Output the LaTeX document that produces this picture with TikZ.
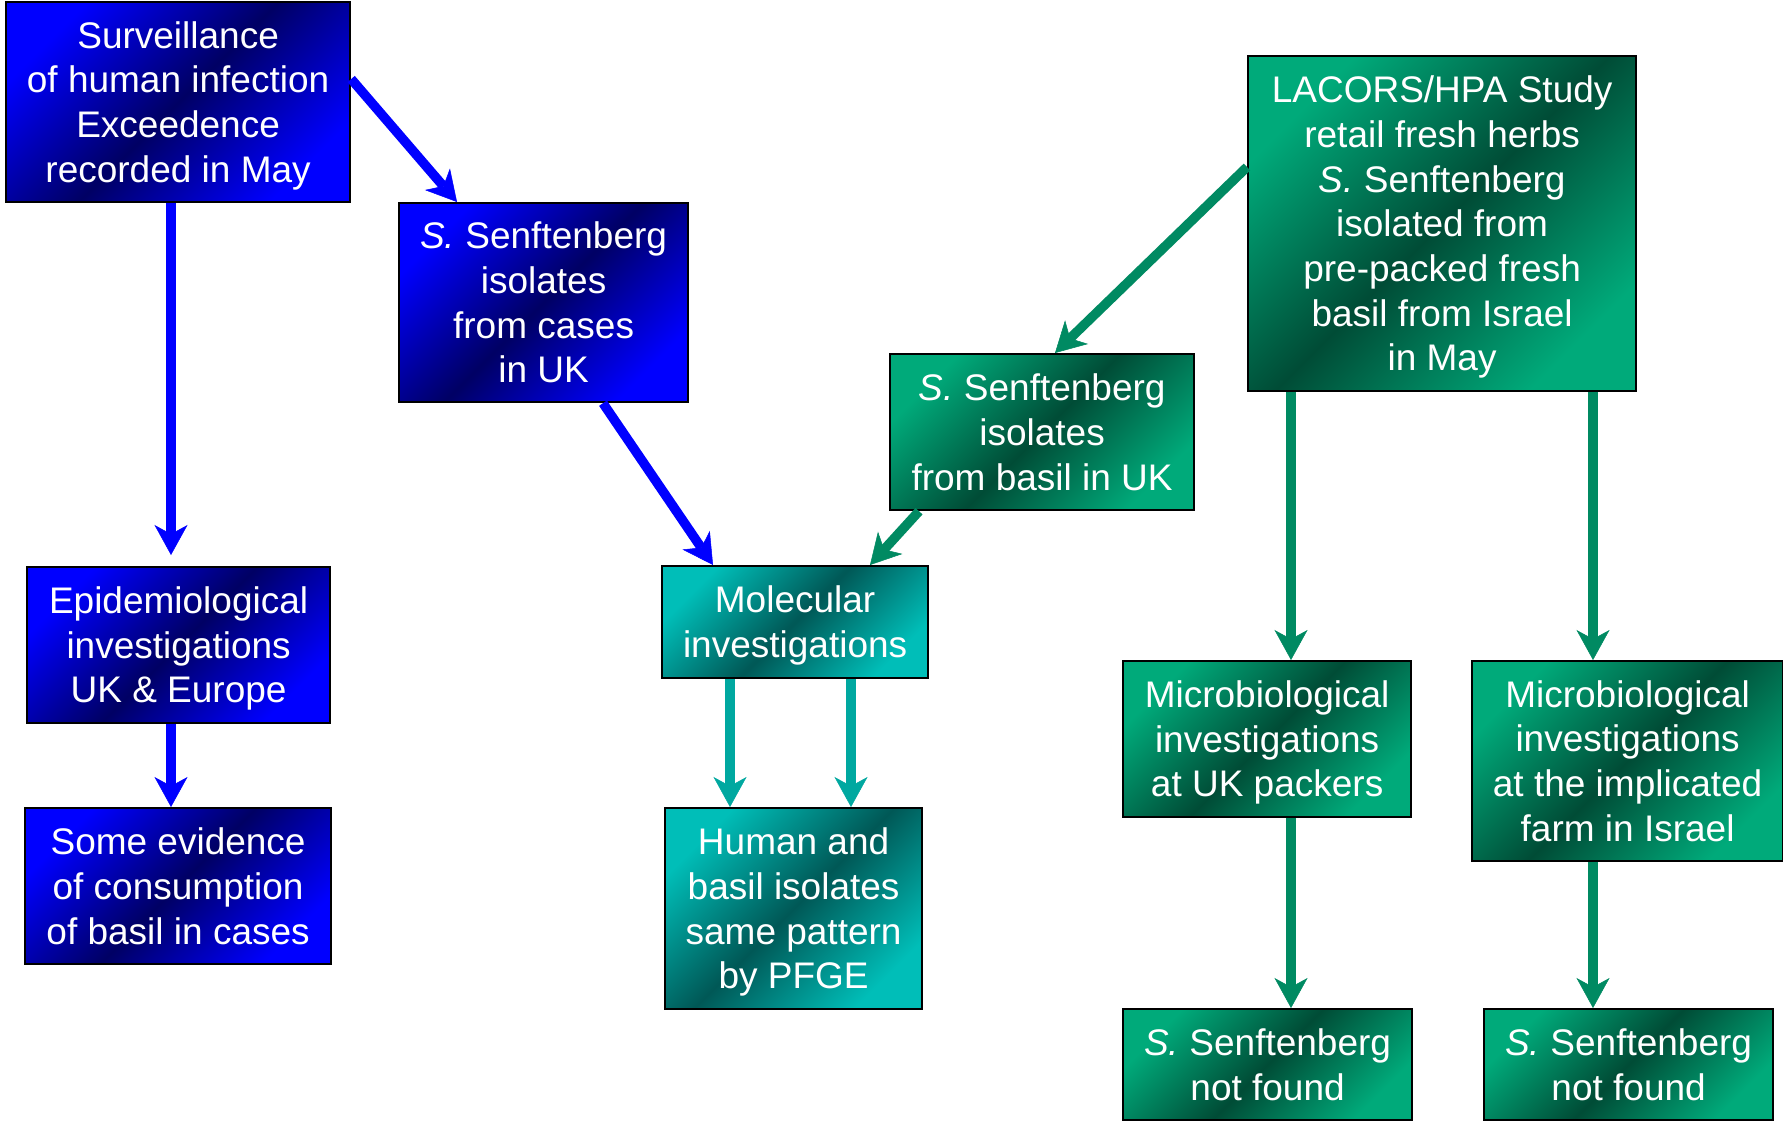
\documentclass[tikz,border=0pt]{standalone}
\usepackage{fontspec}
\setmainfont{Liberation Sans}
\usetikzlibrary{arrows.meta}
\definecolor{cBlue}{RGB}{0,0,255}
\definecolor{cNavy}{RGB}{0,0,100}
\definecolor{cGreen}{RGB}{0,170,122}
\definecolor{cGreenDark}{RGB}{0,76,54}
\definecolor{cTeal}{RGB}{0,190,184}
\definecolor{cTealDark}{RGB}{0,88,86}
\definecolor{aGreen}{RGB}{0,138,98}
\definecolor{aTeal}{RGB}{0,168,160}
\newcommand{\tp}{\rule{0pt}{34pt}}
\begin{document}
\begin{tikzpicture}[x=1pt,y=-1pt,
  box/.style={draw=black, line width=2.2pt, text=white, align=center, inner sep=0pt,
    anchor=north west, font=\fontsize{37}{44.7}\selectfont},
  blueshade/.style={left color=cBlue, right color=cBlue, middle color=cNavy, shading angle=45},
  greenshade/.style={left color=cGreen, right color=cGreen, middle color=cGreenDark, shading angle=45},
  tealshade/.style={left color=cTeal, right color=cTeal, middle color=cTealDark, shading angle=45},
  conn/.style={line width=9.5pt, -{Stealth[length=30pt,width=33pt,inset=9pt,line width=0.5pt]}},
  bluearr/.style={conn, draw=cBlue, fill=cBlue},
  greenarr/.style={conn, draw=aGreen, fill=aGreen},
  tealarr/.style={conn, draw=aTeal, fill=aTeal}]
\useasboundingbox[fill=white] (0,0) rectangle (1783,1120);

% blue boxes
\node[box, blueshade, minimum width=344pt, minimum height=200pt] (surv) at (5,1)
  {\tp Surveillance\\of human infection\\Exceedence\\recorded in May};
\node[box, blueshade, minimum width=289pt, minimum height=199pt] (cases) at (398,202)
  {\textit{S.} Senftenberg\\isolates\\from cases\\in UK};
\node[box, blueshade, minimum width=303pt, minimum height=156pt] (epid) at (26,566)
  {\tp Epidemiological\\investigations\\UK \& Europe};
\node[box, blueshade, minimum width=306pt, minimum height=156pt] (evid) at (24,807)
  {Some evidence\\of consumption\\of basil in cases};

% teal boxes
\node[box, tealshade, minimum width=266pt, minimum height=112pt] (molec) at (661,565)
  {\tp Molecular\\investigations};
\node[box, tealshade, minimum width=257pt, minimum height=201pt] (human) at (664,807)
  {\tp Human and\\basil isolates\\same pattern\\by PFGE};

% green boxes
\node[box, greenshade, minimum width=304pt, minimum height=156pt] (basil) at (889,353)
  {\textit{S.} Senftenberg\\isolates\\from basil in UK};
\node[box, greenshade, minimum width=388pt, minimum height=335pt] (lacors) at (1247,55)
  {\tp LACORS/HPA Study\\retail fresh herbs\\\textit{S.} Senftenberg\\isolated from\\pre-packed fresh\\basil from Israel\\in May};
\node[box, greenshade, minimum width=288pt, minimum height=156pt] (microuk) at (1122,660)
  {\tp Microbiological\\investigations\\at UK packers};
\node[box, greenshade, minimum width=311pt, minimum height=200pt] (microil) at (1471,660)
  {Microbiological\\investigations\\at the implicated\\farm in Israel};
\node[box, greenshade, minimum width=289pt, minimum height=111pt] (nfa) at (1122,1008)
  {\textit{S.} Senftenberg\\not found};
\node[box, greenshade, minimum width=289pt, minimum height=111pt] (nfb) at (1483,1008)
  {\textit{S.} Senftenberg\\not found};

% connectors
\draw[bluearr] ([yshift=-78pt]surv.north east) -- ([xshift=59pt]cases.north west);
\draw[bluearr] ([xshift=166pt]surv.south west) -- ([xshift=145pt,yshift=11pt]epid.north west);
\draw[bluearr] ([xshift=145pt]epid.south west) -- ([xshift=147pt]evid.north west);
\draw[bluearr] ([xshift=205pt]cases.south west) -- ([xshift=52pt]molec.north west);
\draw[greenarr] ([xshift=30pt]basil.south west) -- ([xshift=209pt]molec.north west);
\draw[greenarr] ([yshift=-112pt]lacors.north west) -- ([xshift=166pt]basil.north west);
\draw[tealarr] ([xshift=69pt]molec.south west) -- ([xshift=66pt]human.north west);
\draw[tealarr] ([xshift=190pt]molec.south west) -- ([xshift=187pt]human.north west);
\draw[greenarr] ([xshift=44pt]lacors.south west) -- ([xshift=169pt]microuk.north west);
\draw[greenarr] ([xshift=346pt]lacors.south west) -- ([xshift=122pt]microil.north west);
\draw[greenarr] ([xshift=169pt]microuk.south west) -- ([xshift=169pt]nfa.north west);
\draw[greenarr] ([xshift=122pt]microil.south west) -- ([xshift=110pt]nfb.north west);
\end{tikzpicture}
\end{document}
